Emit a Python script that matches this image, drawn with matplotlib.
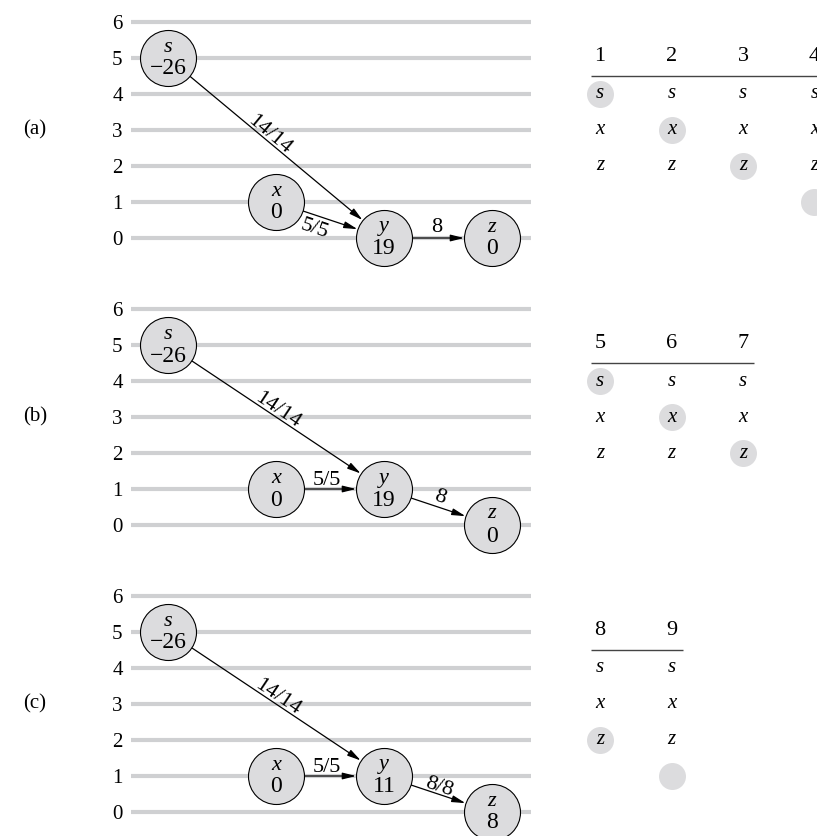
import numpy as np
import matplotlib
matplotlib.use("Agg")
import matplotlib.pyplot as plt

plt.rcParams['font.family'] = ['Liberation Serif', 'DejaVu Serif']

# ---- data ----
panel_labels = ['(a)', '(b)', '(c)']
node_names = ['s', 'x', 'y', 'z']
node_cols = [0, 1, 2, 3]
heights = [[5, 1, 0, 0], [5, 1, 1, 0], [5, 1, 1, 0]]
excess = [['\u221226', '0', '19', '0'],
          ['\u221226', '0', '19', '0'],
          ['\u221226', '0', '11', '8']]
edges = [(0, 2), (1, 2), (2, 3)]
edge_labels = [['14/14', '5/5', '8'],
               ['14/14', '5/5', '8'],
               ['14/14', '5/5', '8/8']]
level_ticks = [0, 1, 2, 3, 4, 5, 6]
table_headers = [['1', '2', '3', '4'], ['5', '6', '7'], ['8', '9']]
table_rows = ['s', 'x', 'z']
table_highlight = [[0, 1, 2, 3], [0, 1, 2], [2, 3]]

# ---- style / layout ----
# label placement: (fraction along edge, perpendicular offset px)
label_place = [[(0.45, 6), (0.40, -14), (0.49, 10)],
               [(0.49, 6), (0.47, 9), (0.49, 10)],
               [(0.49, 6), (0.47, 9), (0.49, 7)]]
W, H = 817, 836
unit = 108.0     # px per node column
lev = 36.0       # px per level
s_px = 168.0
grid_left, grid_right = 131.0, 531.0
ax_right = 817.0
level0_px = [238.0, 525.0, 812.0]
GRID_C = '#cfd0d2'
NODE_C = '#dcdcde'
node_r_pt = 28 * 0.72
tab_x0 = (600 - s_px) / unit
tab_dx = 71.5 / unit

fig = plt.figure(figsize=(W / 100, H / 100), dpi=100)

for p in range(3):
    y0 = level0_px[p]
    top = y0 - 6.6 * lev
    bot = y0 + 0.6 * lev
    ax = fig.add_axes([grid_left / W, 1 - bot / H, (ax_right - grid_left) / W, (bot - top) / H])
    xlim = ((grid_left - s_px) / unit, (ax_right - s_px) / unit)
    ax.set_xlim(*xlim)
    ax.set_ylim(-0.6, 6.6)
    for sp in ax.spines.values():
        sp.set_visible(False)
    ax.set_xticks([])
    ax.set_yticks(level_ticks)
    ax.set_yticklabels([str(v) for v in level_ticks], fontsize=15)
    ax.tick_params(axis='y', length=0, pad=6)
    ax.patch.set_alpha(0)

    gx1 = (grid_right - s_px) / unit
    ax.hlines(level_ticks, xlim[0], gx1, colors=GRID_C, linewidth=3.0, zorder=1)

    # panel label
    ax.text((35 - s_px) / unit, 3, panel_labels[p], fontsize=15, ha='center', va='center',
            clip_on=False)

    hs = heights[p]
    # nodes
    ax.scatter(node_cols, hs, s=(2 * node_r_pt) ** 2, facecolor=NODE_C, edgecolor='black',
               linewidth=0.8, zorder=4, clip_on=False)
    for i, nm in enumerate(node_names):
        ax.annotate(nm, (node_cols[i], hs[i]), xytext=(0, 11 * 0.72), textcoords='offset points',
                    ha='center', va='center', fontsize=16, style='italic', zorder=5,
                    annotation_clip=False)
        ax.annotate(excess[p][i], (node_cols[i], hs[i]), xytext=(0, -11 * 0.72),
                    textcoords='offset points', ha='center', va='center', fontsize=17,
                    zorder=5, annotation_clip=False)

    # edges
    for k, (a, b) in enumerate(edges):
        pa = (node_cols[a], hs[a])
        pb = (node_cols[b], hs[b])
        ax.annotate('', xy=pb, xytext=pa,
                    arrowprops=dict(arrowstyle='-|>,head_length=0.8,head_width=0.2',
                                    color='black', lw=0.9,
                                    shrinkA=node_r_pt, shrinkB=node_r_pt),
                    zorder=3, annotation_clip=False)
        da = ax.transData.transform(pa)
        db = ax.transData.transform(pb)
        d = db - da
        ang = np.degrees(np.arctan2(d[1], d[0]))
        n = np.array([-d[1], d[0]]) / np.hypot(*d)
        t, off = label_place[p][k]
        mid = (pa[0] + t * (pb[0] - pa[0]), pa[1] + t * (pb[1] - pa[1]))
        ax.annotate(edge_labels[p][k], mid, xytext=(n[0] * off * 0.72, n[1] * off * 0.72),
                    textcoords='offset points', ha='center', va='center', rotation=ang,
                    rotation_mode='anchor', fontsize=16, zorder=5, annotation_clip=False)

    # table
    hdr = table_headers[p]
    cols_x = [tab_x0 + j * tab_dx for j in range(len(hdr))]
    for j, h in enumerate(hdr):
        ax.text(cols_x[j], 5.05, h, fontsize=16, ha='center', va='center', clip_on=False)
        for r, nm in enumerate(table_rows):
            ax.text(cols_x[j], 4 - r, nm, fontsize=15, style='italic', ha='center',
                    va='center', zorder=5, clip_on=False)
    ax.plot([cols_x[0] - 9 / unit, cols_x[-1] + 11 / unit], [4.5, 4.5], color='#444444',
            lw=1.0, clip_on=False, solid_capstyle='butt')
    hx = [cols_x[j] for j in range(len(hdr))]
    hy = [4 - table_highlight[p][j] for j in range(len(hdr))]
    ax.scatter(hx, hy, s=(27 * 0.72) ** 2, color=NODE_C, linewidth=0, zorder=3, clip_on=False)

fig.savefig('out.png', dpi=100)
